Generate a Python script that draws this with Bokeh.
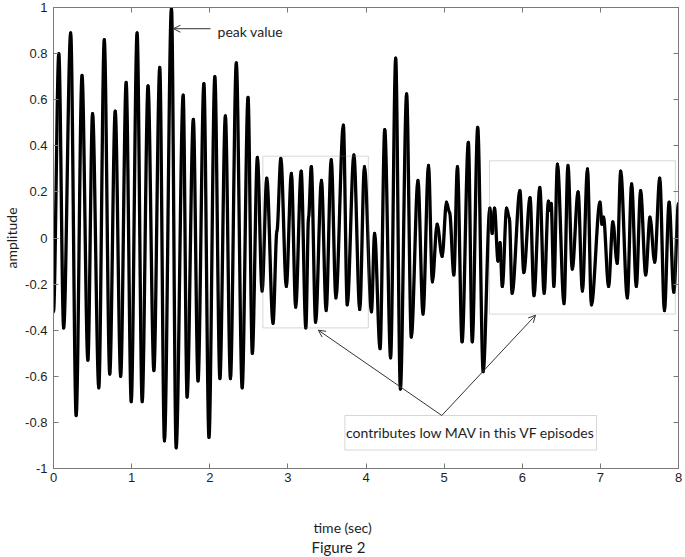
import numpy as np
from bokeh.plotting import figure
from bokeh.models import (LinearAxis, FixedTicker, Label, BoxAnnotation, Arrow,
                          OpenHead, ColumnDataSource, Title)
from bokeh.embed import file_html
from bokeh.resources import INLINE

# ---- data: extrema (and shoulders) of the VF signal ----
time_s = [0.00, 0.068, 0.13, 0.22, 0.29, 0.365, 0.44, 0.50, 0.58, 0.65, 0.72, 0.79, 0.86,
          0.93, 0.995, 1.07, 1.135, 1.21, 1.285, 1.36, 1.42, 1.51, 1.57, 1.66, 1.71, 1.79,
          1.85, 1.925, 1.99, 2.065, 2.13, 2.20, 2.265, 2.34, 2.415, 2.49, 2.545, 2.61, 2.67,
          2.73, 2.81, 2.86, 2.91, 2.98, 3.045, 3.10, 3.17, 3.23, 3.265, 3.30, 3.355, 3.43,
          3.49, 3.555, 3.615, 3.71, 3.76, 3.845, 3.92, 3.98, 4.07, 4.11, 4.18, 4.24, 4.315,
          4.38, 4.44, 4.52, 4.58, 4.665, 4.73, 4.80, 4.85, 4.91, 4.975, 5.03, 5.07, 5.125,
          5.17, 5.23, 5.31, 5.36, 5.43, 5.50, 5.585, 5.615, 5.645, 5.69, 5.715, 5.745, 5.80,
          5.835, 5.87, 5.97, 6.02, 6.10, 6.15, 6.225, 6.28, 6.335, 6.355, 6.37, 6.405, 6.45,
          6.535, 6.585, 6.64, 6.715, 6.77, 6.835, 6.885, 6.995, 7.02, 7.04, 7.105, 7.16,
          7.215, 7.26, 7.345, 7.40, 7.46, 7.515, 7.58, 7.635, 7.695, 7.76, 7.82, 7.88, 7.94,
          8.00]
amplitude = [-0.32, 0.80, -0.39, 0.89, -0.77, 0.705, -0.53, 0.54, -0.65, 0.86, -0.59, 0.55, -0.60,
             0.675, -0.71, 0.89, -0.71, 0.66, -0.575, 0.74, -0.88, 1.00, -0.91, 0.62, -0.69, 0.515,
             -0.62, 0.67, -0.865, 0.70, -0.61, 0.53, -0.61, 0.76, -0.65, 0.61, -0.50, 0.35, -0.23,
             0.26, -0.37, 0.03, 0.345, -0.21, 0.28, -0.30, 0.29, -0.39, 0.09, 0.31, -0.365, 0.25,
             -0.315, 0.34, -0.26, 0.49, -0.29, 0.36, -0.31, 0.31, -0.32, 0.02, -0.48, 0.47, -0.52,
             0.78, -0.655, 0.625, -0.43, 0.25, -0.33, 0.315, -0.19, 0.06, -0.08, 0.155, 0.11, -0.16,
             0.31, -0.45, 0.415, -0.45, 0.48, -0.58, 0.13, 0.02, 0.13, -0.10, -0.02, -0.21, 0.13,
             0.085, -0.24, 0.205, -0.15, 0.175, -0.25, 0.22, -0.24, 0.16, 0.12, 0.15, -0.21, 0.32,
             -0.285, 0.315, -0.135, 0.20, -0.23, 0.30, -0.29, 0.155, 0.06, 0.09, -0.21, 0.07,
             -0.11, 0.29, -0.26, 0.235, -0.21, 0.205, -0.16, 0.09, -0.105, 0.26, -0.315, 0.155, -0.235,
             0.15]

x_ticks = [0, 1, 2, 3, 4, 5, 6, 7, 8]
x_tick_labels = ["0", "1", "2", "3", "4", "5", "6", "7", "8"]
y_ticks = [-1, -0.8, -0.6, -0.4, -0.2, 0, 0.2, 0.4, 0.6, 0.8, 1]
y_tick_labels = ["-1", "-0.8", "-0.6", "-0.4", "-0.2", "0", "0.2", "0.4", "0.6", "0.8", "1"]

GRAY = "#7a7a7a"
TXT = "#1e1e1e"
TICK_FONT = "Liberation Sans"
LAB_FONT = "Lato"

p = figure(frame_width=625, frame_height=461, x_range=(0, 8), y_range=(-1, 1),
           output_backend="svg", toolbar_location=None, x_axis_location=None,
           y_axis_location=None, min_border_left=53, min_border_right=6,
           min_border_top=7, min_border_bottom=0)
p.xgrid.visible = False
p.ygrid.visible = False
p.outline_line_color = GRAY
p.outline_line_width = 1
p.background_fill_color = "white"
p.border_fill_color = "white"


def make_axis(ticks, labels, show_labels):
    ax = LinearAxis(ticker=FixedTicker(ticks=ticks),
                    major_label_overrides={t: l for t, l in zip(ticks, labels)})
    ax.axis_line_color = GRAY
    ax.major_tick_line_color = GRAY
    ax.major_tick_in = 5
    ax.major_tick_out = 0
    ax.minor_tick_line_color = None
    ax.major_label_text_font = TICK_FONT
    ax.major_label_text_color = TXT
    if show_labels:
        ax.major_label_text_font_size = "13px"
    else:
        ax.major_label_overrides = {t: "" for t in ticks}
        ax.major_label_text_font_size = "1px"
        ax.major_label_text_color = None
        ax.major_label_standoff = 0
    return ax


bottom = make_axis(x_ticks, x_tick_labels, True)
bottom.major_label_standoff = 4
left = make_axis(y_ticks, y_tick_labels, True)
left.major_label_standoff = 6
left.axis_label = "amplitude"
left.axis_label_text_font = LAB_FONT
left.axis_label_text_font_size = "14px"
left.axis_label_text_font_style = "normal"
left.axis_label_text_color = TXT
left.axis_label_standoff = 2
top = make_axis(x_ticks, x_tick_labels, False)
right = make_axis(y_ticks, y_tick_labels, False)

# invisible axis that only reserves room between the tick labels and the x title
spacer = LinearAxis(ticker=FixedTicker(ticks=[4]), major_label_overrides={4: ""},
                    major_tick_out=33, major_tick_in=0,
                    major_tick_line_color=None, axis_line_color=None,
                    minor_tick_line_color=None, major_label_standoff=0,
                    major_label_text_color=None, major_label_text_font_size="1px")

p.add_layout(bottom, "below")
p.add_layout(spacer, "below")
p.add_layout(left, "left")
p.add_layout(top, "above")
p.add_layout(right, "right")

p.add_layout(Title(text="time (sec)", align="left", offset=260, vertical_align="middle",
                   standoff=0, text_font=LAB_FONT, text_font_size="14px",
                   text_font_style="normal", text_color=TXT), "below")
p.add_layout(Title(text="Figure 2", align="left", offset=258, vertical_align="middle",
                   standoff=0, text_font=LAB_FONT, text_font_size="15px",
                   text_font_style="normal", text_color=TXT), "below")

# ---- signal drawn as smooth segments between the read extrema ----
t = np.array(time_s)
a = np.array(amplitude)
dt = t[1:] - t[:-1]
src = ColumnDataSource(dict(x0=t[:-1], y0=a[:-1], x1=t[1:], y1=a[1:],
                            cx0=t[:-1] + dt / 3.0, cy0=a[:-1],
                            cx1=t[1:] - dt / 3.0, cy1=a[1:]))
p.bezier(x0="x0", y0="y0", x1="x1", y1="y1", cx0="cx0", cy0="cy0", cx1="cx1", cy1="cy1",
         source=src, line_color="black", line_width=3.3, line_cap="round", line_join="round")

# ---- annotations ----
box_kw = dict(fill_alpha=0, line_color=GRAY, line_width=1)
p.add_layout(BoxAnnotation(left=2.68, right=4.03, top=0.355, bottom=-0.39, **box_kw))
p.add_layout(BoxAnnotation(left=5.58, right=7.96, top=0.335, bottom=-0.33, **box_kw))
p.add_layout(BoxAnnotation(left=3.73, right=6.95, top=-0.77, bottom=-0.92,
                           fill_color="white", fill_alpha=1, line_color=GRAY,
                           line_width=1))

p.add_layout(Label(x=5.34, y=-0.845, text="contributes low MAV in this VF episodes",
                   text_font=LAB_FONT, text_font_size="14px", text_color=TXT,
                   text_align="center", text_baseline="middle", level="overlay"))

head_kw = dict(size=7, line_color="#333333", line_width=1)
p.add_layout(Arrow(end=OpenHead(**head_kw), x_start=4.97, y_start=-0.77, x_end=3.39,
                   y_end=-0.40, line_color="#333333", line_width=1))
p.add_layout(Arrow(end=OpenHead(**head_kw), x_start=4.97, y_start=-0.77, x_end=6.17,
                   y_end=-0.335, line_color="#333333", line_width=1))
p.add_layout(Arrow(end=OpenHead(**head_kw), x_start=2.01, y_start=0.908, x_end=1.535,
                   y_end=0.908, line_color="#333333", line_width=1))
p.add_layout(Label(x=2.10, y=0.895, text="peak value", text_font=LAB_FONT,
                   text_font_size="14px", text_color=TXT, text_align="left",
                   text_baseline="middle", level="overlay"))

open("out.html", "w").write(file_html(p, INLINE))
